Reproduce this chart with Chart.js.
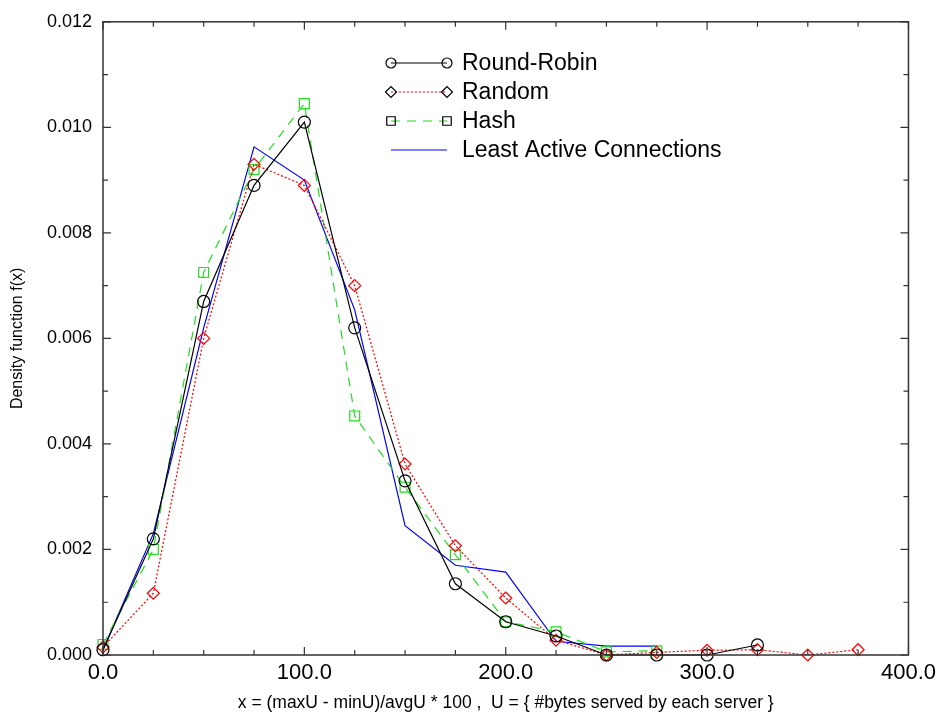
<!DOCTYPE html>
<html>
<head>
<meta charset="utf-8">
<script src="https://cdn.jsdelivr.net/npm/chart.js@4.4.1/dist/chart.umd.min.js"></script>
<style>
  html, body { margin: 0; padding: 0; background: #fff; }
  #wrap { width: 941px; height: 719px; }
</style>
</head>
<body>
<div id="wrap"><canvas id="density" width="941" height="719"></canvas></div>
<script>
// x positions of the histogram bins
var binX = [0, 25, 50, 75, 100, 125, 150, 175, 200, 225, 250, 275, 300, 325, 350, 375];

// density values
var roundRobin = [0.0001, 0.0022, 0.0067, 0.0089, 0.0101, 0.0062, 0.0033, 0.00135, 0.00063, 0.00036, 0.0, 0.0, 0.0, 0.00019];
var random = [0.00015, 0.00117, 0.0060, 0.0093, 0.0089, 0.0070, 0.00362, 0.00207, 0.00108, 0.00028, 0.0, 0.00005, 0.00009, 0.0001, 0.0, 0.0001];
var hash = [0.0002, 0.0020, 0.00725, 0.0092, 0.01045, 0.00453, 0.00318, 0.0019, 0.00063, 0.00044, 0.00006, 0.00008];
var leastActive = [0.0001, 0.0023, 0.0062, 0.00963, 0.0090, 0.00654, 0.00245, 0.0017, 0.00157, 0.00026, 0.00017, 0.00017];

var seriesNames = ["Round-Robin", "Random", "Hash", "Least Active Connections"];
var xTickLabels = ["0.0", "100.0", "200.0", "300.0", "400.0"];

function points(values) {
    var out = [];
    for (var i = 0; i < values.length; i++) {
        out.push({ x: binX[i], y: values[i] });
    }
    return out;
}

// frame with inward ticks on all four sides, like the original plot
var frame = {
    id: 'frame',
    afterDraw: function (chart) {
        var ctx = chart.ctx;
        var a = chart.chartArea;
        var xs = chart.scales.x, ys = chart.scales.y;
        ctx.save();
        ctx.strokeStyle = '#333';
        ctx.lineWidth = 1.5;
        ctx.strokeRect(a.left, a.top, a.right - a.left, a.bottom - a.top);
        ctx.lineWidth = 1.2;
        ctx.beginPath();
        for (var v = 0; v <= 400; v += 25) {
            var px = xs.getPixelForValue(v);
            var len = (v % 100 === 0) ? 8 : 5;
            ctx.moveTo(px, a.bottom); ctx.lineTo(px, a.bottom - len);
            ctx.moveTo(px, a.top); ctx.lineTo(px, a.top + len);
        }
        for (var k = 0; k <= 12; k++) {
            var py = ys.getPixelForValue(k * 0.001);
            var l2 = (k % 2 === 0) ? 8 : 5;
            ctx.moveTo(a.left, py); ctx.lineTo(a.left + l2, py);
            ctx.moveTo(a.right, py); ctx.lineTo(a.right - l2, py);
        }
        ctx.stroke();
        ctx.restore();
    }
};

// legend drawn by hand: line sample with a hollow marker at each end
var legendBox = {
    id: 'legendBox',
    afterDraw: function (chart) {
        var ctx = chart.ctx;
        var x1 = 391, x2 = 447, tx = 462;
        var rows = [63, 92, 121, 150];
        ctx.save();
        chart.data.datasets.forEach(function (ds, i) {
            var y = rows[i];
            ctx.strokeStyle = ds.borderColor;
            ctx.lineWidth = ds.borderWidth;
            ctx.setLineDash(ds.borderDash || []);
            ctx.beginPath();
            ctx.moveTo(x1, y); ctx.lineTo(x2, y);
            ctx.stroke();
            ctx.setLineDash([]);
            if (ds.pointRadius > 0) {
                [x1, x2].forEach(function (mx) {
                    ctx.fillStyle = 'rgba(0,0,0,0)';
                    ctx.strokeStyle = '#000';
                    ctx.lineWidth = 1.2;
                    Chart.helpers.drawPoint(ctx, {
                        pointStyle: ds.pointStyle,
                        radius: ds.legendRadius,
                        borderWidth: 1.2
                    }, mx, y);
                });
            }
            ctx.fillStyle = '#000';
            ctx.font = '23px "Liberation Sans", Arial, sans-serif';
            ctx.textBaseline = 'middle';
            ctx.textAlign = 'left';
            ctx.fillText(ds.label, tx, y + 1);
        });
        ctx.restore();
    }
};

var ctx = document.getElementById('density').getContext('2d');

var graphic = new Chart(ctx, {
    type: 'scatter',
    data: {
        datasets: [{
            label: seriesNames[0],
            data: points(roundRobin),
            showLine: true,
            borderColor: '#000000',
            borderWidth: 1.2,
            pointStyle: 'circle',
            pointRadius: 6,
            legendRadius: 5,
            pointBorderWidth: 1.2,
            pointBorderColor: '#000000',
            pointBackgroundColor: 'rgba(0,0,0,0)',
            clip: false
        }, {
            label: seriesNames[1],
            data: points(random),
            showLine: true,
            borderColor: '#ff0000',
            borderWidth: 1.2,
            borderDash: [2, 2],
            pointStyle: 'rectRot',
            pointRadius: 6,
            legendRadius: 5.5,
            pointBorderWidth: 1.2,
            pointBorderColor: '#ff0000',
            pointBackgroundColor: 'rgba(0,0,0,0)',
            clip: false
        }, {
            label: seriesNames[2],
            data: points(hash),
            showLine: true,
            borderColor: '#22dd22',
            borderWidth: 1.2,
            borderDash: [9, 7],
            pointStyle: 'rect',
            pointRadius: 7,
            legendRadius: 6,
            pointBorderWidth: 1.2,
            pointBorderColor: '#22dd22',
            pointBackgroundColor: 'rgba(0,0,0,0)',
            clip: false
        }, {
            label: seriesNames[3],
            data: points(leastActive),
            showLine: true,
            borderColor: '#0000ff',
            borderWidth: 1.2,
            pointRadius: 0,
            clip: false
        }]
    },
    options: {
        responsive: false,
        animation: false,
        layout: { padding: { left: 0, right: 32, top: 16, bottom: 0 } },
        plugins: {
            legend: { display: false },
            tooltip: { enabled: false }
        },
        scales: {
            x: {
                type: 'linear',
                min: 0,
                max: 400,
                afterFit: function (s) { s.height = 64; },
                grid: { display: false, drawTicks: false },
                border: { display: false },
                ticks: {
                    stepSize: 100,
                    padding: 5,
                    color: '#000',
                    font: { family: '"Liberation Sans", Arial, sans-serif', size: 22 },
                    maxRotation: 0,
                    callback: function (v) { return xTickLabels[Math.round(v / 100)]; }
                },
                title: {
                    display: true,
                    text: 'x = (maxU - minU)/avgU * 100 ,  U = { #bytes served by each server }',
                    color: '#000',
                    font: { family: '"Liberation Sans", Arial, sans-serif', size: 17.5 },
                    padding: { top: 0, bottom: 5 }
                }
            },
            y: {
                min: 0,
                max: 0.012,
                afterFit: function (s) { s.width = 103; },
                grid: { display: false, drawTicks: false },
                border: { display: false },
                ticks: {
                    stepSize: 0.002,
                    padding: 11,
                    color: '#000',
                    font: { family: '"Liberation Sans", Arial, sans-serif', size: 18 },
                    callback: function (v) { return v.toFixed(3); }
                },
                title: {
                    display: true,
                    text: 'Density function f(x)',
                    color: '#000',
                    font: { family: '"Liberation Sans", Arial, sans-serif', size: 16 },
                    padding: { top: 8, bottom: 0 }
                }
            }
        }
    },
    plugins: [frame, legendBox]
});
</script>
</body>
</html>
